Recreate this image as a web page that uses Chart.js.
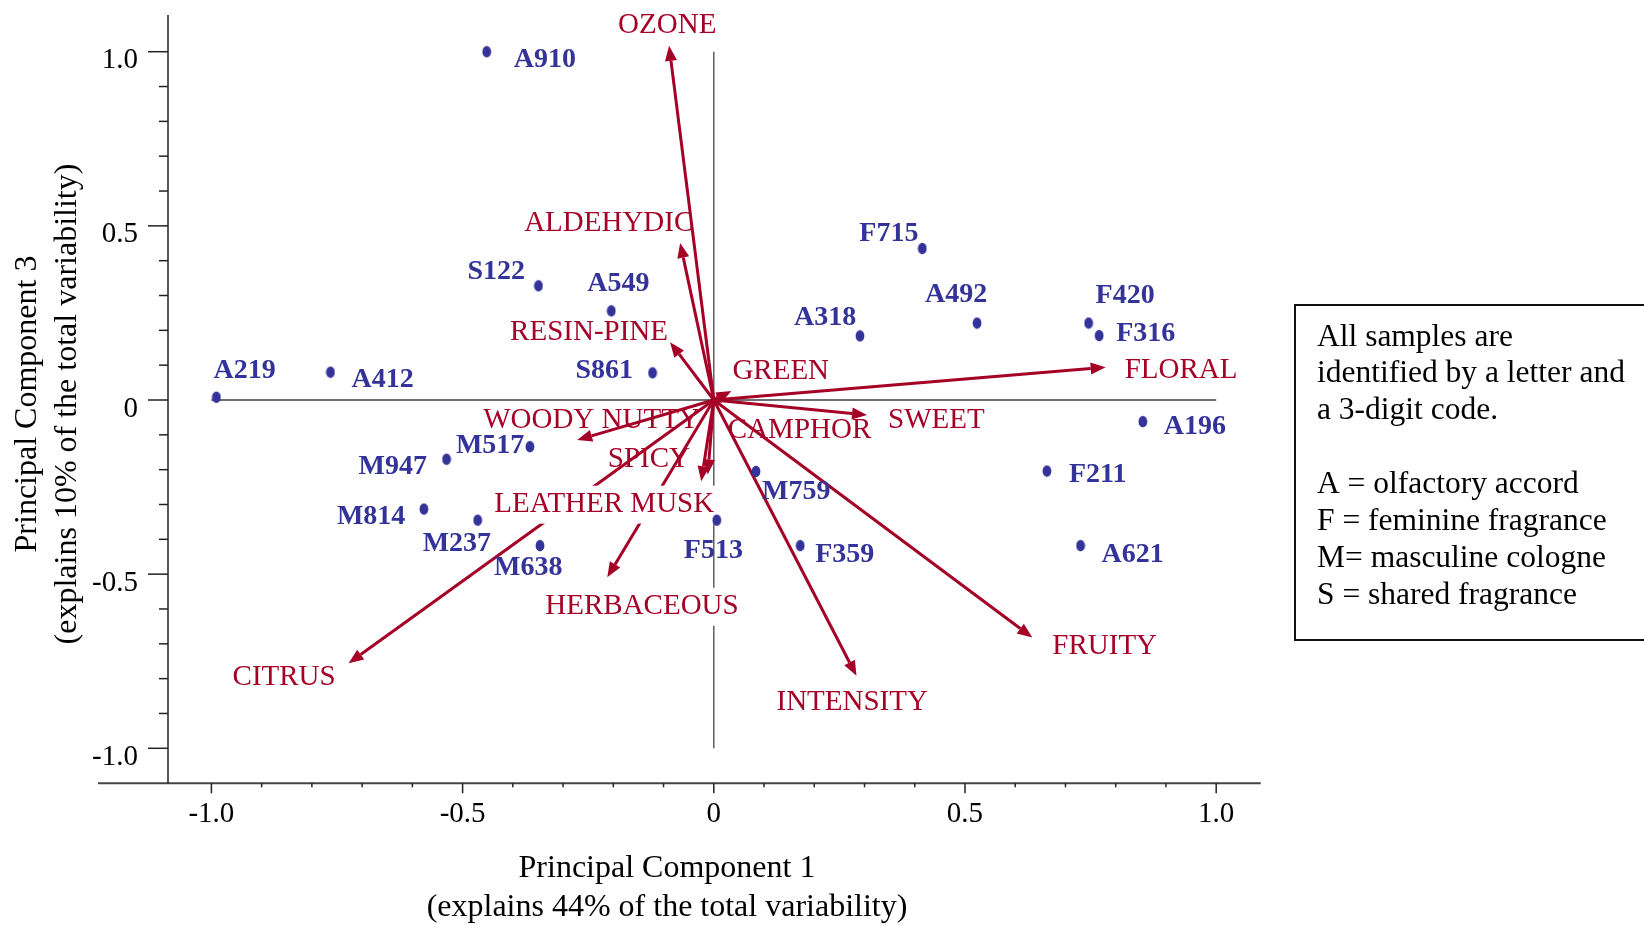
<!DOCTYPE html>
<html>
<head>
<meta charset="utf-8">
<title>PCA biplot - fragrance samples</title>
<script src="https://cdn.jsdelivr.net/npm/chart.js@4.4.0/dist/chart.umd.min.js"></script>
<style>
  html, body { margin: 0; padding: 0; background: #fff; }
  #wrap { position: relative; width: 1644px; height: 925px; overflow: hidden; }
</style>
</head>
<body>
<div id="wrap"><canvas id="biplot" width="1644" height="925"></canvas></div>
<script>
// sample scores on PC1 / PC3
const sampleCodes = ['A910', 'S122', 'A549', 'S861', 'A219', 'A412', 'F715', 'A492', 'A318', 'F420', 'F316',
                     'A196', 'F211', 'A621', 'M759', 'F513', 'F359', 'M638', 'M237', 'M814', 'M947', 'M517'];
const samplePC1   = [-0.452, -0.349, -0.204, -0.122, -0.990, -0.763, 0.415, 0.524, 0.291, 0.746, 0.767,
                     0.854, 0.663, 0.730, 0.084, 0.006, 0.172, -0.346, -0.470, -0.577, -0.532, -0.366];
const samplePC3   = [1.000, 0.328, 0.256, 0.078, 0.008, 0.080, 0.435, 0.221, 0.184, 0.221, 0.185,
                     -0.062, -0.204, -0.418, -0.205, -0.345, -0.418, -0.418, -0.345, -0.313, -0.170, -0.134];

// attribute loadings (arrows from the origin)
const attributes = ['OZONE', 'ALDEHYDIC', 'RESIN-PINE', 'GREEN', 'FLORAL', 'SWEET', 'CAMPHOR',
                    'WOODY NUTTY', 'SPICY', 'LEATHER MUSK', 'HERBACEOUS', 'CITRUS', 'INTENSITY', 'FRUITY'];
const loadingPC1 = [-0.089, -0.067, -0.087, 0.035, 0.780, 0.305, 0.012,
                    -0.272, -0.012, -0.025, -0.212, -0.727, 0.284, 0.634];
const loadingPC3 = [1.017, 0.451, 0.166, 0.026, 0.094, -0.043, -0.010,
                    -0.115, -0.214, -0.233, -0.509, -0.756, -0.792, -0.682];

const xTicks = [-1, -0.5, 0, 0.5, 1];
const yTicks = [-1, -0.5, 0, 0.5, 1];

const noteLines = ['All samples are', 'identified by a letter and', 'a 3-digit code.', '',
                   'A = olfactory accord', 'F = feminine fragrance', 'M= masculine cologne', 'S = shared fragrance'];

// ---- layout / style ----
const SERIF = '"Liberation Serif", "Times New Roman", serif';
const BLUE  = '#333399';
const RED   = '#a50026';

// label anchor: offset (px) of text left edge / vertical middle from the mark
const sampleLabelOffset = {
  A910: [27, 8],   S122: [-71, -14], A549: [-24, -27], S861: [-77, -2], A219: [-3, -26],
  A412: [21, 8],   F715: [-63, -15], A492: [-52, -28], A318: [-66, -18], F420: [7, -27],
  F316: [17, -2],  A196: [21, 5],    F211: [22, 4],    A621: [21, 9],    M759: [6, 20],
  F513: [-33, 31], F359: [15, 9],    M638: [-46, 22],  M237: [-55, 24],  M814: [-87, 8],
  M947: [-88, 8],  M517: [-74, -1]
};
const attrLabelOffset = {
  'OZONE': [-51, -20.5], 'ALDEHYDIC': [-156, -19.5], 'RESIN-PINE': [-160, -9.5], 'GREEN': [1, -19.5],
  'FLORAL': [19, 3.5], 'SWEET': [21, 5.5], 'CAMPHOR': [8, 26.5], 'WOODY NUTTY': [-94, -19.5],
  'SPICY': [-100, -15.5], 'LEATHER MUSK': [-207, 23.5], 'HERBACEOUS': [-62, 29.5], 'CITRUS': [-116, 14.5],
  'INTENSITY': [-80, 26.5], 'FRUITY': [20, 8.5]
};
// these labels sit on a white box that hides lines behind them
const boxedLabels = ['SWEET', 'LEATHER MUSK', 'HERBACEOUS'];

// slightly tall elliptical dot
function makeDot() {
  const c = document.createElement('canvas');
  c.width = 10; c.height = 13;
  const g = c.getContext('2d');
  g.fillStyle = BLUE;
  g.beginPath();
  g.ellipse(5, 6.5, 4.4, 5.8, 0, 0, Math.PI * 2);
  g.fill();
  return c;
}

function drawArrow(ctx, x0, y0, x1, y1) {
  const ang = Math.atan2(y1 - y0, x1 - x0);
  const len = Math.hypot(x1 - x0, y1 - y0);
  const headLen = Math.min(15, len);
  const headW = 6;
  const cos = Math.cos(ang), sin = Math.sin(ang);
  const bx = x1 - headLen * cos, by = y1 - headLen * sin;
  ctx.beginPath();
  ctx.moveTo(x0, y0);
  ctx.lineTo(bx, by);
  ctx.stroke();
  ctx.beginPath();
  ctx.moveTo(x1, y1);
  ctx.lineTo(bx + headW * sin, by - headW * cos);
  ctx.lineTo(bx - headW * sin, by + headW * cos);
  ctx.closePath();
  ctx.fill();
}

function drawLabel(ctx, text, x, y, boxed) {
  if (boxed) {
    const w = ctx.measureText(text).width;
    ctx.save();
    ctx.fillStyle = '#fff';
    ctx.fillRect(x - 2, y - 19, w + 4, 38);
    ctx.restore();
  }
  ctx.fillText(text, x, y);
}

const biplotPlugin = {
  id: 'biplot',
  beforeDatasetsDraw(chart) {
    const { ctx, scales: { x, y } } = chart;
    const ox = x.getPixelForValue(0), oy = y.getPixelForValue(0);
    ctx.save();

    // reference cross through the origin
    ctx.strokeStyle = '#6e6e6e';
    ctx.lineWidth = 2;
    ctx.beginPath();
    ctx.moveTo(x.getPixelForValue(-1), oy);
    ctx.lineTo(x.getPixelForValue(1), oy);
    ctx.stroke();
    ctx.lineWidth = 1.4;
    ctx.strokeStyle = '#555';
    ctx.beginPath();
    ctx.moveTo(ox, y.getPixelForValue(1));
    ctx.lineTo(ox, y.getPixelForValue(-1));
    ctx.stroke();

    // loading arrows
    ctx.strokeStyle = RED;
    ctx.fillStyle = RED;
    ctx.lineWidth = 3;
    attributes.forEach((a, i) => {
      drawArrow(ctx, ox, oy, x.getPixelForValue(loadingPC1[i]), y.getPixelForValue(loadingPC3[i]));
    });

    // attribute names
    ctx.font = '29px ' + SERIF;
    ctx.textAlign = 'left';
    ctx.textBaseline = 'middle';
    attributes.forEach((a, i) => {
      const [dx, dy] = attrLabelOffset[a];
      const px = x.getPixelForValue(loadingPC1[i]) + dx;
      const py = y.getPixelForValue(loadingPC3[i]) + dy;
      drawLabel(ctx, a, px, py, boxedLabels.includes(a));
    });
    ctx.restore();
  },
  afterDatasetsDraw(chart) {
    const { ctx, scales: { x, y } } = chart;
    ctx.save();
    ctx.fillStyle = BLUE;
    ctx.font = 'bold 28px ' + SERIF;
    ctx.textAlign = 'left';
    ctx.textBaseline = 'middle';
    sampleCodes.forEach((s, i) => {
      const [dx, dy] = sampleLabelOffset[s];
      ctx.fillText(s, x.getPixelForValue(samplePC1[i]) + dx, y.getPixelForValue(samplePC3[i]) + dy);
    });
    ctx.restore();
  },
  afterDraw(chart) {
    const { ctx, scales: { x, y }, chartArea } = chart;
    ctx.save();

    // axes: x line runs past the y axis on the left
    ctx.strokeStyle = '#444';
    ctx.lineWidth = 2;
    ctx.beginPath();
    ctx.moveTo(98, chartArea.bottom);
    ctx.lineTo(chartArea.right, chartArea.bottom);
    ctx.stroke();
    ctx.strokeStyle = '#222';
    ctx.lineWidth = 1.5;
    ctx.beginPath();
    ctx.moveTo(chartArea.left, chartArea.top);
    ctx.lineTo(chartArea.left, chartArea.bottom);
    ctx.stroke();

    // major and minor tick marks every 0.1
    for (let i = -10; i <= 10; i++) {
      const major = i % 5 === 0;
      const v = i / 10;
      const py = y.getPixelForValue(v);
      ctx.beginPath();
      ctx.moveTo(chartArea.left - (major ? 20 : 9), py);
      ctx.lineTo(chartArea.left, py);
      ctx.stroke();
      const px = x.getPixelForValue(v);
      ctx.beginPath();
      ctx.moveTo(px, chartArea.bottom);
      ctx.lineTo(px, chartArea.bottom + (major ? 10 : 4));
      ctx.stroke();
    }

    // axis titles
    ctx.fillStyle = '#000';
    ctx.font = '32px ' + SERIF;
    ctx.textAlign = 'center';
    ctx.textBaseline = 'middle';
    ctx.fillText('Principal Component 1', 667, 869);
    ctx.fillText('(explains 44% of the total variability)', 667, 908);
    [['Principal Component 3', 28], ['(explains 10% of the total variability)', 68]].forEach(([t, cx]) => {
      ctx.save();
      ctx.translate(cx, 404);
      ctx.rotate(-Math.PI / 2);
      ctx.fillText(t, 0, 0);
      ctx.restore();
    });

    // sample code note
    ctx.strokeStyle = '#111';
    ctx.lineWidth = 2;
    ctx.strokeRect(1295, 305, 400, 335);
    ctx.font = '31.5px ' + SERIF;
    ctx.textAlign = 'left';
    ctx.textBaseline = 'alphabetic';
    noteLines.forEach((t, i) => ctx.fillText(t, 1317, 345.5 + i * 36.9));
    ctx.restore();
  }
};

const fmt = v => (v === 0 ? '0' : v.toFixed(1));

new Chart(document.getElementById('biplot'), {
  type: 'scatter',
  data: {
    datasets: [{
      data: samplePC1.map((v, i) => ({ x: v, y: samplePC3[i] })),
      pointStyle: makeDot(),
      pointRadius: 5,
      pointHoverRadius: 5,
      backgroundColor: BLUE,
      borderColor: BLUE,
    }],
  },
  options: {
    responsive: false,
    animation: false,
    devicePixelRatio: 1,
    layout: { padding: { left: 0, top: 15, right: 383.3, bottom: 0 } },
    plugins: { legend: { display: false }, tooltip: { enabled: false } },
    scales: {
      x: {
        type: 'linear',
        min: -1.0864,
        max: 1.0886,
        afterFit: s => { s.height = 141.7; s.paddingLeft = 0; s.paddingRight = 0; },
        afterBuildTicks: s => { s.ticks = xTicks.map(v => ({ value: v })); },
        grid: { display: false, drawTicks: false },
        border: { display: false },
        ticks: { font: { family: SERIF, size: 29 }, color: '#000', padding: 14, maxRotation: 0, autoSkip: false, callback: fmt },
      },
      y: {
        type: 'linear',
        min: -1.1005,
        max: 1.1054,
        afterFit: s => { s.width = 168; s.paddingTop = 0; s.paddingBottom = 0; },
        afterBuildTicks: s => { s.ticks = yTicks.map(v => ({ value: v })); },
        grid: { display: false, drawTicks: false },
        border: { display: false },
        ticks: { font: { family: SERIF, size: 29 }, color: '#000', padding: 30, labelOffset: 9, autoSkip: false, callback: fmt },
      },
    },
  },
  plugins: [biplotPlugin],
});
</script>
</body>
</html>
